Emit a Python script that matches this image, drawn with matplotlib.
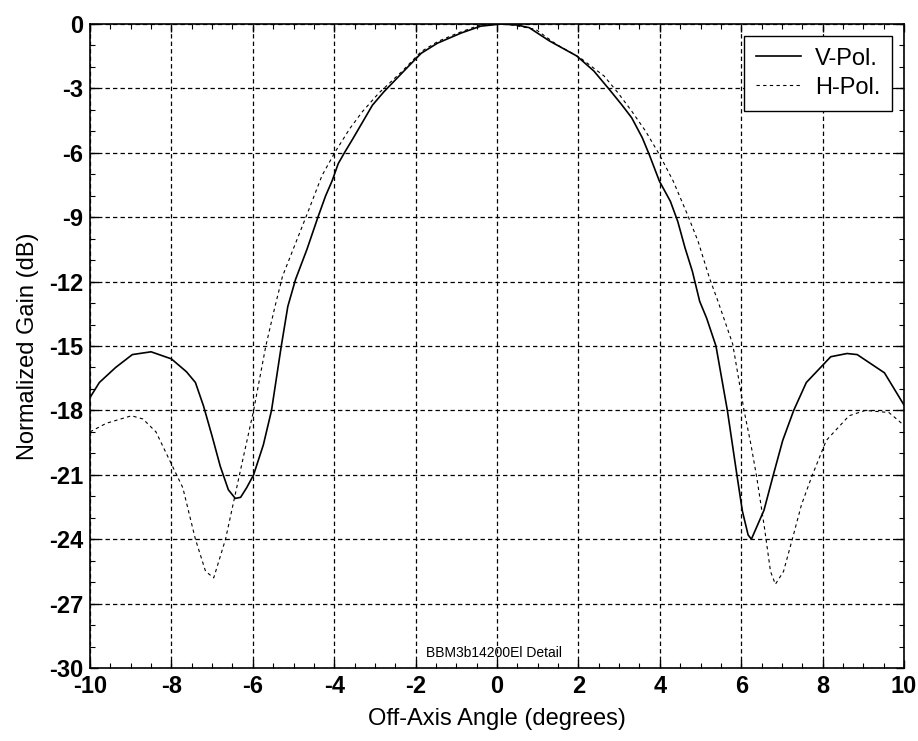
import matplotlib
matplotlib.use('Agg')
import matplotlib.pyplot as plt
import numpy as np

plt.rcParams['font.family'] = ['Liberation Sans', 'DejaVu Sans']
plt.rcParams['axes.unicode_minus'] = False

# V-Pol. (solid)
v_angle = [-10.0, -9.77, -9.37, -8.96, -8.5, -8.0, -7.63, -7.41, -7.21, -7.0,
           -6.8, -6.6, -6.43, -6.3, -6.15, -5.98, -5.74, -5.54, -5.3, -5.14,
           -4.95, -4.67, -4.4, -4.21, -4.05, -3.9, -3.74, -3.54, -3.3, -3.06,
           -2.78, -2.5, -2.18, -1.86, -1.46, -0.88, -0.4, 0.1, 0.5, 0.79,
           1.29, 1.96, 2.38, 2.76, 3.06, 3.31, 3.57, 3.74, 3.99, 4.26,
           4.44, 4.62, 4.8, 4.98, 5.15, 5.38, 5.66, 5.89, 6.03, 6.17,
           6.25, 6.56, 6.79, 7.02, 7.29, 7.6, 8.2, 8.6, 8.85, 9.52,
           10.0]
v_gain = [-17.4, -16.7, -16.0, -15.4, -15.27, -15.6, -16.2, -16.7, -17.8, -19.2,
          -20.6, -21.7, -22.1, -22.05, -21.6, -21.0, -19.6, -18.0, -15.0, -13.16,
          -11.9, -10.5, -9.0, -8.0, -7.3, -6.5, -5.97, -5.34, -4.56, -3.78,
          -3.16, -2.61, -1.98, -1.36, -0.89, -0.42, -0.1, 0.0, -0.05, -0.17,
          -0.79, -1.49, -2.19, -3.05, -3.75, -4.37, -5.3, -6.08, -7.32, -8.26,
          -9.19, -10.43, -11.52, -12.92, -13.7, -15.0, -18.0, -20.95, -22.7, -23.8,
          -24.0, -22.65, -21.0, -19.4, -18.0, -16.7, -15.5, -15.35, -15.4, -16.25,
          -17.75]

# H-Pol. (dashed)
h_angle = [-10.0, -9.6, -8.98, -8.7, -8.38, -8.05, -7.72, -7.41, -7.16, -6.96,
           -6.67, -6.31, -5.98, -5.68, -5.46, -5.27, -4.88, -4.65, -4.3, -3.98,
           -3.62, -3.31, -2.91, -2.34, -1.86, -1.45, -0.96, -0.42, 0.24, 0.95,
           1.46, 2.04, 2.63, 2.97, 3.31, 3.65, 3.99, 4.33, 4.68, 4.94,
           5.22, 5.43, 5.79, 6.07, 6.24, 6.38, 6.57, 6.72, 6.84, 7.04,
           7.27, 7.48, 7.73, 8.09, 8.65, 9.05, 9.63, 9.88, 10.0]
h_gain = [-19.0, -18.6, -18.25, -18.4, -19.0, -20.3, -21.6, -24.0, -25.5, -25.8,
          -24.0, -20.85, -18.0, -15.0, -13.2, -11.75, -9.88, -8.78, -7.06, -5.97,
          -4.88, -4.09, -3.23, -2.22, -1.28, -0.81, -0.42, -0.05, 0.0, -0.25,
          -0.95, -1.57, -2.42, -3.2, -4.06, -4.99, -6.08, -7.32, -8.88, -10.12,
          -11.83, -12.92, -14.9, -18.0, -19.6, -21.1, -23.45, -25.5, -26.1, -25.5,
          -23.9, -22.4, -21.1, -19.4, -18.25, -18.0, -18.1, -18.5, -18.7]

x_ticks = np.arange(-10, 11, 2)
y_ticks = np.arange(-30, 1, 3)

fig = plt.figure(figsize=(9.18, 7.41), dpi=100)
ax = fig.add_axes([90 / 918, 73 / 741, 814 / 918, 644 / 741])

ax.plot(v_angle, v_gain, color='black', linewidth=1.2, label='V-Pol.')
ax.plot(h_angle, h_gain, color='black', linewidth=0.8, linestyle=(0, (3, 3)),
        label='H-Pol.')

ax.set_xlim(-10, 10)
ax.set_ylim(-30, 0)
ax.set_xticks(x_ticks)
ax.set_yticks(y_ticks)
ax.set_xticks(np.arange(-10, 10.01, 0.5), minor=True)
ax.set_yticks(np.arange(-30, 0.01, 1), minor=True)
ax.tick_params(which='both', direction='in', top=True, right=True,
               labelsize=17, pad=5)
ax.tick_params(which='major', length=6, width=1)
ax.tick_params(which='minor', length=3.5, width=0.8)
for lab in ax.get_xticklabels() + ax.get_yticklabels():
    lab.set_fontweight('bold')

ax.grid(True, which='major', color='black', linestyle=(0, (3.5, 2.5)), linewidth=0.9)

for sp in ax.spines.values():
    sp.set_linewidth(1.2)

ax.set_xlabel('Off-Axis Angle (degrees)', fontsize=17, labelpad=7)
ax.set_ylabel('Normalized Gain (dB)', fontsize=17, labelpad=7)

ax.text(-1.75, -29.3, 'BBM3b14200El Detail', fontsize=10, va='center', ha='left')

leg = ax.legend(loc='upper right', fontsize=17, fancybox=False, framealpha=1,
                edgecolor='black', handlelength=1.9, handletextpad=0.6,
                labelspacing=0.3, borderpad=0.5, borderaxespad=0.5)
leg.get_frame().set_linewidth(1.0)

fig.savefig('out.png', dpi=100)
